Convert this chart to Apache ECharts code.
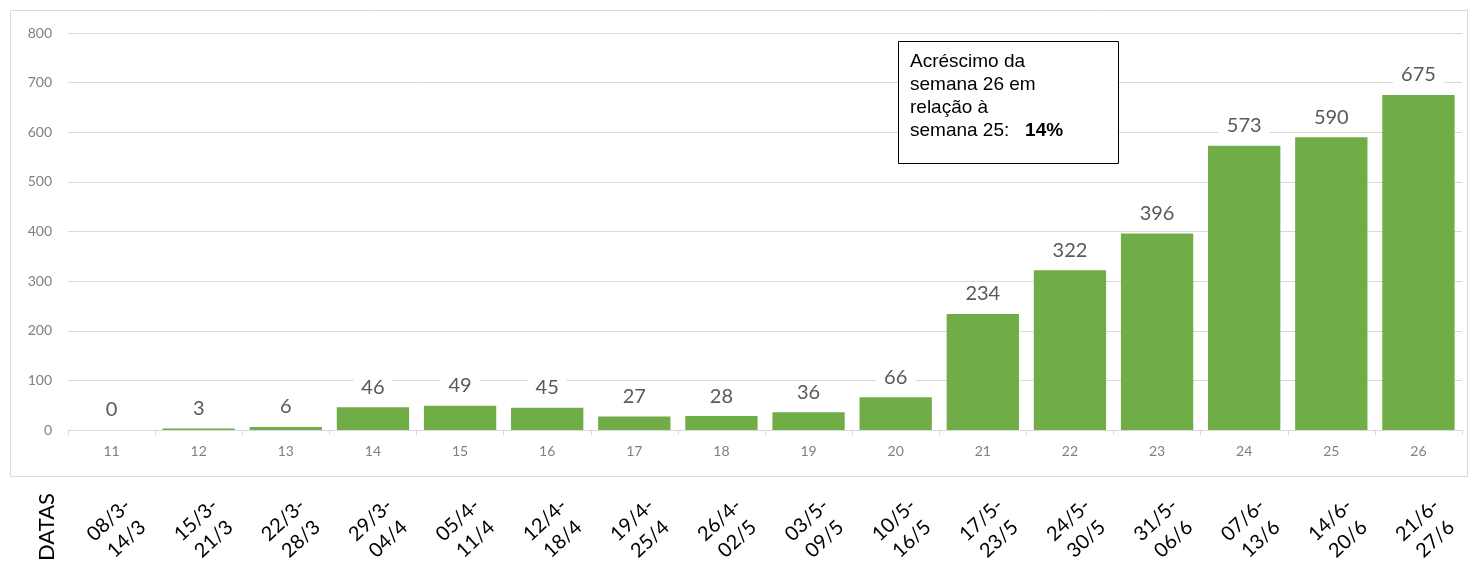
<!DOCTYPE html>
<html>
<head>
<meta charset="utf-8">
<script src="https://cdn.jsdelivr.net/npm/echarts@6/dist/echarts.min.js"></script>
<style>
html,body{margin:0;padding:0;background:#fff;}
#c{width:1472px;height:568px;}
</style>
</head>
<body>
<div id="c"></div>
<script>
var weeks = ['11','12','13','14','15','16','17','18','19','20','21','22','23','24','25','26'];
var dates = ['08/3-\n14/3','15/3-\n21/3','22/3-\n28/3','29/3-\n04/4','05/4-\n11/4','12/4-\n18/4','19/4-\n25/4','26/4-\n02/5','03/5-\n09/5','10/5-\n16/5','17/5-\n23/5','24/5-\n30/5','31/5-\n06/6','07/6-\n13/6','14/6-\n20/6','21/6-\n27/6'];
var cases = [0,3,6,46,49,45,27,28,36,66,234,322,396,573,590,675];
var yTicks = {min:0, max:800, interval:100};

var FONT = 'Lato, "Open Sans", sans-serif';
var chart = echarts.init(document.getElementById('c'));
chart.setOption({
  animation:false,
  backgroundColor:'#fff',
  grid:[{left:68, right:10, top:33, bottom:138},{left:74, right:2, top:33, bottom:138}],
  xAxis:[{
    type:'category', data:weeks, position:'bottom', gridIndex:0,
    axisLine:{lineStyle:{color:'#d9d9d9'}},
    axisTick:{show:true, length:5, lineStyle:{color:'#d9d9d9'}},
    axisLabel:{color:'#808080', fontSize:14, margin:14, fontFamily:FONT}
  },{
    type:'category', data:dates, position:'bottom', gridIndex:1,
    axisLine:{show:false}, axisTick:{show:false},
    axisLabel:{color:'#000', fontSize:20, rotate:43, margin:109, align:'center', verticalAlign:'middle', lineHeight:26, fontFamily:FONT, interval:0}
  }],
  yAxis:[{
    type:'value', min:yTicks.min, max:yTicks.max, interval:yTicks.interval, gridIndex:0,
    axisLine:{show:false}, axisTick:{show:false},
    splitLine:{lineStyle:{color:'#d9d9d9'}},
    axisLabel:{color:'#808080', fontSize:14, margin:16, fontFamily:FONT}
  },{
    type:'value', min:yTicks.min, max:yTicks.max, gridIndex:1, show:false
  }],
  series:[{
    type:'bar', data:cases, xAxisIndex:0, yAxisIndex:0,
    barCategoryGap:'17%',
    itemStyle:{color:'#70AD47'},
    label:{show:true, position:'top', distance:10, color:'#595959', fontSize:20,
      fontFamily:FONT, backgroundColor:'#fff', padding:[0,8]}
  }],
  graphic:[
    {type:'rect', shape:{x:10.5, y:10.5, width:1457, height:466}, style:{fill:null, stroke:'#d9d9d9', lineWidth:1}, silent:true, z:-1},
    {type:'text', x:47, y:527, rotation:Math.PI/2, style:{text:'DATAS', fill:'#000', fontSize:22, fontFamily:FONT, align:'center', verticalAlign:'middle'}},
    {type:'rect', shape:{x:898.5, y:41.5, width:220, height:122}, style:{fill:'#fff', stroke:'#000', lineWidth:1}, z:10},
    {type:'text', x:910, y:50, z:11, style:{
      text:'Acréscimo da\nsemana 26 em\nrelação à\nsemana 25:   {b|14%}',
      fill:'#000', fontSize:19, lineHeight:23, fontFamily:'"Liberation Sans", Arial, sans-serif',
      rich:{b:{fontSize:19, lineHeight:23, fontWeight:'bold', fill:'#000', fontFamily:'"Liberation Sans", Arial, sans-serif'}}
    }}
  ]
});
</script>
</body>
</html>
